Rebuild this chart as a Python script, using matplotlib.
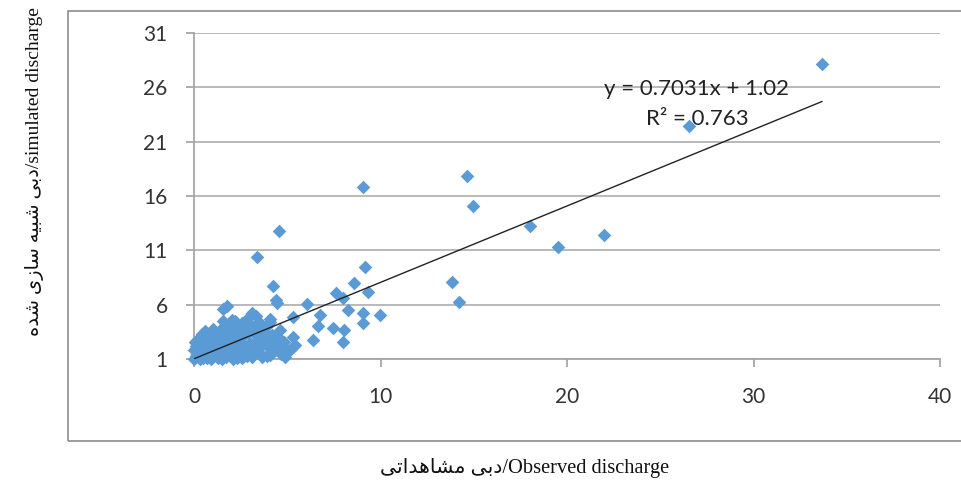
import numpy as np
import matplotlib.pyplot as plt
from matplotlib.patches import Rectangle

# observed vs simulated discharge
obs = [33.67, 26.54, 14.64, 14.96, 18.02, 19.52, 21.98, 13.83, 14.21, 9.06,
       4.56, 3.38, 9.17, 8.58, 7.61, 7.99, 9.33, 6.06, 4.24, 4.45,
       4.40, 8.26, 9.06, 9.97, 9.06, 6.76, 6.65, 7.45, 8.04, 7.99,
       6.38, 5.31, 5.31, 4.61, 1.55, 1.75, 2.04, 1.55, 3.11, 4.99,
       4.61, 4.07,
       0.0, 0.1, 0.2, 0.3, 0.1, 0.0, 0.2, 0.4, 0.5, 0.6,
       0.4, 0.7, 0.8, 0.9, 0.7, 0.8, 1.0, 1.1, 1.2, 1.0,
       1.3, 1.4, 1.5, 1.6, 1.3, 1.7, 1.8, 1.9, 1.7, 2.0,
       2.1, 2.2, 2.0, 2.3, 2.4, 2.5, 2.6, 2.4, 2.7, 2.8,
       2.9, 3.0, 2.8, 3.1, 3.2, 3.3, 3.4, 3.2, 3.5, 3.6,
       3.7, 3.8, 3.9, 4.0, 4.1, 4.2, 4.3, 4.4, 4.6, 4.8,
       5.0, 3.5, 3.9, 4.1, 2.6, 3.3, 0.3, 0.5, 0.9, 1.5,
       2.1, 2.6, 0.15, 0.6, 1.2, 1.8, 2.2, 3.0, 3.5, 4.5,
       1.1, 0.5, 1.4, 2.3, 3.7, 0.9, 0.2, 0.6, 2.8, 3.2,
       0.35, 0.75, 1.25, 1.65, 2.15, 2.55, 2.95, 3.45, 3.85, 4.25,
       0.05, 0.45, 0.95, 1.45, 1.95, 2.45, 2.85, 3.15, 3.65, 4.05,
       4.65, 5.2, 5.4, 3.0, 2.7, 2.2, 1.6, 1.0, 0.6, 4.9]
sim = [28.14, 22.44, 17.84, 15.08, 13.24, 11.30, 12.41, 8.08, 6.24, 16.82,
       12.78, 10.38, 9.46, 7.99, 7.07, 6.61, 7.16, 6.06, 7.72, 6.15,
       6.40, 5.51, 5.23, 5.05, 4.31, 5.05, 4.04, 3.85, 3.67, 2.56,
       2.75, 4.86, 3.02, 3.67, 5.60, 5.85, 4.59, 4.50, 5.23, 1.83,
       2.10, 4.40,
       1.0, 1.3, 1.6, 2.0, 2.2, 1.8, 2.4, 1.2, 1.7, 2.2,
       2.6, 1.1, 1.5, 2.0, 2.8, 3.1, 1.3, 1.8, 2.4, 2.7,
       1.1, 1.6, 2.1, 2.6, 3.0, 1.2, 1.9, 2.3, 3.2, 1.5,
       2.8, 3.3, 3.7, 1.1, 1.8, 2.5, 3.0, 3.9, 1.4, 2.1,
       3.4, 4.2, 4.6, 1.2, 1.9, 2.6, 3.1, 3.8, 1.6, 2.3,
       2.9, 3.5, 1.3, 2.0, 2.7, 3.2, 1.7, 2.4, 1.9, 2.6,
       1.6, 4.4, 4.0, 4.7, 4.3, 5.0, 1.0, 1.1, 1.0, 1.0,
       1.0, 1.1, 1.5, 1.4, 1.5, 1.4, 2.1, 2.5, 2.8, 3.0,
       3.4, 3.0, 3.6, 4.1, 3.7, 2.5, 2.8, 3.6, 4.1, 3.5,
       1.9, 2.4, 2.0, 2.9, 2.3, 1.6, 2.2, 2.0, 2.6, 2.2,
       2.6, 3.3, 3.2, 3.4, 3.9, 3.4, 1.3, 1.5, 1.2, 1.4,
       1.5, 1.9, 2.3, 3.7, 4.0, 4.5, 4.0, 3.8, 3.4, 1.2]

slope = 0.7031
intercept = 1.02
r2 = 0.763

xticks = [0, 10, 20, 30, 40]
yticks = [1, 6, 11, 16, 21, 26, 31]

xlabel_fa = "دبی مشاهداتی"
xlabel_en = "/Observed discharge"
ylabel_fa = "دبی شبیه سازی شده"
ylabel_en = "/simulated discharge"

# contextual forms (isolated, final, initial, medial) for the letters used
FORMS = {
    'ا': ('\uFE8D', '\uFE8E', None, None),
    'ب': ('\uFE8F', '\uFE90', '\uFE91', '\uFE92'),
    'ت': ('\uFE95', '\uFE96', '\uFE97', '\uFE98'),
    'د': ('\uFEA9', '\uFEAA', None, None),
    'ز': ('\uFEAF', '\uFEB0', None, None),
    'س': ('\uFEB1', '\uFEB2', '\uFEB3', '\uFEB4'),
    'ش': ('\uFEB5', '\uFEB6', '\uFEB7', '\uFEB8'),
    'م': ('\uFEE1', '\uFEE2', '\uFEE3', '\uFEE4'),
    'ه': ('\uFEE9', '\uFEEA', '\uFEEB', '\uFEEC'),
    'ی': ('\uFEEF', '\uFEF0', '\uFEF3', '\uFEF4'),
}


def shape_rtl(s):
    out = []
    for i, ch in enumerate(s):
        if ch not in FORMS:
            out.append(ch)
            continue
        prev = s[i - 1] if i > 0 else ''
        nxt = s[i + 1] if i + 1 < len(s) else ''
        iso, fin, ini, med = FORMS[ch]
        jp = prev in FORMS and FORMS[prev][2] is not None
        jn = ini is not None and nxt in FORMS
        if jp and jn:
            out.append(med)
        elif jp:
            out.append(fin)
        elif jn:
            out.append(ini)
        else:
            out.append(iso)
    return ''.join(reversed(out))


W, H = 962, 488
fig = plt.figure(figsize=(W / 100, H / 100), dpi=100)
fig.patches.append(Rectangle((68 / W, 1 - 441 / H), (990 - 68) / W, (441 - 11) / H,
                             transform=fig.transFigure, fill=False,
                             edgecolor='#8c8c8c', lw=1.2))

ax = fig.add_axes([194 / W, 129 / H, 746 / W, 326 / H])
blue = '#5b9bd5'
ax.scatter(obs, sim, marker='D', s=48, color=blue, linewidths=0, zorder=3, clip_on=False)

xl = np.array([min(obs), max(obs)])
ax.plot(xl, slope * xl + intercept, color='#222222', lw=1.0, zorder=4)

ax.set_xlim(0, 40)
ax.set_ylim(1, 31)
ax.set_xticks(xticks)
ax.set_yticks(yticks)
ax.yaxis.grid(True, color='#b3b3b3', lw=1.3)
ax.set_axisbelow(True)
for s in ['top', 'right']:
    ax.spines[s].set_visible(False)
for s in ['left', 'bottom']:
    ax.spines[s].set_color('#a6a6a6')
    ax.spines[s].set_linewidth(1.3)
ax.tick_params(axis='x', length=6, width=1.3, color='#a6a6a6', pad=14,
               labelsize=15, labelcolor='#333333')
ax.tick_params(axis='y', length=6, width=1.3, color='#a6a6a6', pad=13,
               labelsize=15, labelcolor='#333333')
for lab in ax.get_xticklabels() + ax.get_yticklabels():
    lab.set_family('Lato')

ax.text(26.97, 25.84, f"y = {slope}x + {intercept}", ha='center', va='center',
        fontsize=16, family='Lato', color='#222222', zorder=5)
ax.text(26.97, 23.08, f"R² = {r2}", ha='center', va='center',
        fontsize=16, family='Lato', color='#222222', zorder=5)

fam = ['Liberation Serif', 'DejaVu Sans']
fig.text(525 / W, 1 - 468 / H, shape_rtl(xlabel_fa) + xlabel_en, ha='center', va='center',
         fontsize=14.7, family=fam, color='#111111')
fig.text(35 / W, 1 - 172 / H, shape_rtl(ylabel_fa) + ylabel_en, ha='center', va='center',
         rotation=90, fontsize=14, family=fam, color='#111111')

fig.savefig('out.png', dpi=100)
